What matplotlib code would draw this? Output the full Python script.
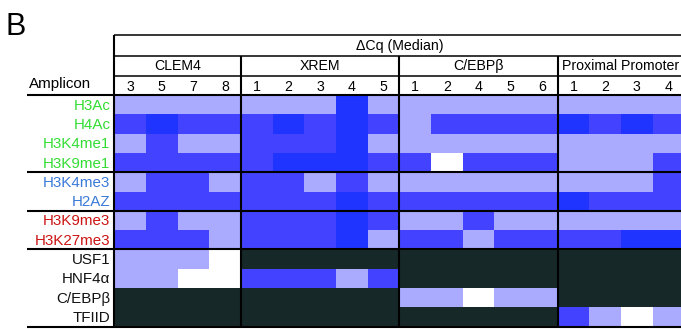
import numpy as np
import matplotlib
matplotlib.use("Agg")
import matplotlib.pyplot as plt
from matplotlib.colors import ListedColormap, BoundaryNorm

plt.rcParams['font.family'] = ['Liberation Sans', 'DejaVu Sans']

# Column structure
groups = ["CLEM4", "XREM", "C/EBPβ", "Proximal Promoter"]
amplicons = [["3", "5", "7", "8"],
             ["1", "2", "3", "4", "5"],
             ["1", "2", "4", "5", "6"],
             ["1", "2", "3", "4"]]

# ΔCq level per amplicon (0 = lowest, 3 = highest); nan = not assayed
N = np.nan
row_labels = ["H3Ac", "H4Ac", "H3K4me1", "H3K9me1", "H3K4me3", "H2AZ",
              "H3K9me3", "H3K27me3", "USF1", "HNF4α", "C/EBPβ", "TFIID"]
label_colors = ["#33dd33"] * 4 + ["#3a7ad8"] * 2 + ["#cc1414"] * 2 + ["#111111"] * 4

h3ac     = [1, 1, 1, 1,  1, 1, 1, 3, 1,  1, 1, 1, 1, 1,  1, 1, 1, 1]
h4ac     = [2, 3, 2, 2,  2, 3, 2, 3, 2,  1, 2, 2, 2, 2,  3, 2, 3, 2]
h3k4me1  = [1, 2, 1, 1,  2, 2, 2, 3, 1,  1, 1, 1, 1, 1,  1, 1, 1, 1]
h3k9me1  = [2, 2, 2, 2,  2, 3, 3, 3, 2,  2, 0, 2, 2, 2,  1, 1, 1, 2]
h3k4me3  = [1, 2, 2, 1,  2, 2, 1, 2, 1,  1, 1, 1, 1, 1,  1, 1, 1, 2]
h2az     = [2, 2, 2, 2,  2, 2, 2, 3, 2,  2, 2, 2, 2, 2,  3, 2, 2, 2]
h3k9me3  = [1, 2, 1, 1,  2, 2, 2, 3, 2,  1, 1, 2, 1, 1,  1, 1, 1, 1]
h3k27me3 = [2, 2, 2, 1,  2, 2, 2, 3, 1,  2, 2, 1, 2, 2,  2, 2, 3, 3]
usf1     = [1, 1, 1, 0,  N, N, N, N, N,  N, N, N, N, N,  N, N, N, N]
hnf4a    = [1, 1, 0, 0,  2, 2, 2, 1, 2,  N, N, N, N, N,  N, N, N, N]
cebpb    = [N, N, N, N,  N, N, N, N, N,  1, 1, 0, 1, 1,  N, N, N, N]
tfiid    = [N, N, N, N,  N, N, N, N, N,  N, N, N, N, N,  2, 1, 0, 1]

level_colors = ["#ffffff", "#aaaaff", "#4242ff", "#1f34ff"]
missing_color = "#172828"

data = np.array([h3ac, h4ac, h3k4me1, h3k9me1, h3k4me3, h2az,
                 h3k9me3, h3k27me3, usf1, hnf4a, cebpb, tfiid], dtype=float)
nrows, ncols = data.shape

W, H, DPI = 681, 329, 100
fig = plt.figure(figsize=(W / DPI, H / DPI), dpi=DPI)

# heatmap area in pixels
x0, x1 = 114.3, 684.3
y0, y1 = 95.0, 326.6
ax = fig.add_axes([x0 / W, 1 - y1 / H, (x1 - x0) / W, (y1 - y0) / H])

cmap = ListedColormap(level_colors)
cmap.set_bad(missing_color)
norm = BoundaryNorm([-0.5, 0.5, 1.5, 2.5, 3.5], cmap.N)
ax.pcolormesh(np.arange(ncols + 1), np.arange(nrows + 1),
              np.ma.masked_invalid(data), cmap=cmap, norm=norm)
ax.set_xlim(0, ncols)
ax.set_ylim(nrows, 0)
ax.axis("off")

lw_thick = 1.5
lw_thin = 1.1
xl = -2.76  # left end of full-width rules
top = -3.1

def hline(y, xa, xb, lw):
    ax.plot([xa, xb], [y, y], color="black", lw=lw, clip_on=False,
            solid_capstyle="butt")

def vline(x, ya, yb, lw):
    ax.plot([x, x], [ya, yb], color="black", lw=lw, clip_on=False,
            solid_capstyle="butt")

# header table rules
hline(top, 0, ncols, lw_thin)
hline(-2, 0, ncols, lw_thin)
hline(-1, 0, ncols, lw_thin)
hline(0, xl, ncols, lw_thick)
for y in (4, 6, 8):
    hline(y, xl, ncols, lw_thick)
hline(nrows, xl, ncols, lw_thick)
vline(0, top, nrows, lw_thick)

# group separators and labels
fs = 10.2
fs_rows = 10.9
start = 0
for g, amps in zip(groups, amplicons):
    end = start + len(amps)
    if start > 0:
        vline(start, -2, nrows, lw_thick)
    ax.text((start + end) / 2, -1.5, g, ha="center", va="center",
            fontsize=fs, clip_on=False)
    for i, a in enumerate(amps):
        ax.text(start + i + 0.5, -0.42, a, ha="center", va="center",
                fontsize=fs, clip_on=False)
    start = end

ax.text(ncols / 2, -2.55, "ΔCq (Median)", ha="center", va="center",
        fontsize=fs, clip_on=False)
ax.text(-2.68, -0.55, "Amplicon", ha="left", va="center",
        fontsize=fs_rows, clip_on=False)

for r, (lab, col) in enumerate(zip(row_labels, label_colors)):
    ax.text(-0.12, r + 0.55, lab, ha="right", va="center", color=col,
            fontsize=fs_rows, clip_on=False)

fig.text(6 / W, 1 - 35 / H, "B", fontsize=22, ha="left", va="baseline")

fig.savefig("out.png", dpi=DPI)
